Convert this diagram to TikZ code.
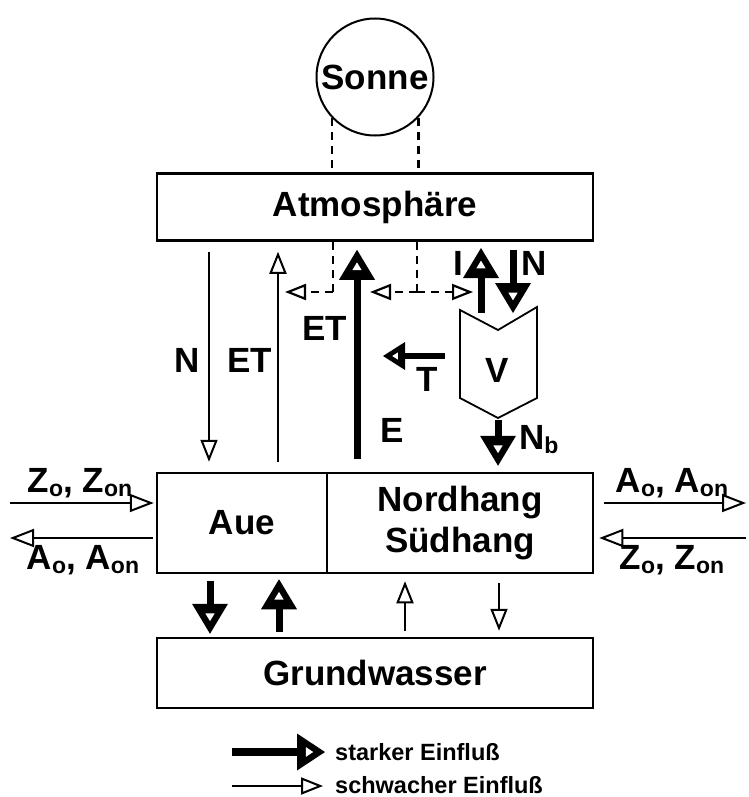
\documentclass[tikz,border=0pt]{standalone}
\usepackage{fontspec}
\setmainfont{Liberation Sans}
\usetikzlibrary{arrows.meta,calc}
% lowered subscript in text size
\newcommand\lowsub[1]{\raisebox{-4pt}{\fontsize{23}{23}\selectfont #1}}
% solid arrow head with a small white triangle inside
\pgfdeclarearrow{
  name = HeavyTri,
  parameters = {\the\pgfarrowlength,\the\pgfarrowwidth},
  setup code = {
    \pgfarrowssettipend{0pt}
    \pgfarrowssetbackend{-\pgfarrowlength}
    \pgfarrowssetvisualbackend{-\pgfarrowlength}
    \pgfarrowssetlineend{-0.9\pgfarrowlength}
    \pgfarrowssavethe\pgfarrowlength
    \pgfarrowssavethe\pgfarrowwidth
  },
  drawing code = {
    \pgfpathmoveto{\pgfpoint{0pt}{0pt}}
    \pgfpathlineto{\pgfpoint{-\pgfarrowlength}{0.5\pgfarrowwidth}}
    \pgfpathlineto{\pgfpoint{-\pgfarrowlength}{-0.5\pgfarrowwidth}}
    \pgfpathclose
    \pgfusepathqfill
    \pgfsetfillcolor{white}
    \pgfpathmoveto{\pgfpoint{-0.42\pgfarrowlength}{0pt}}
    \pgfpathlineto{\pgfpoint{-0.68\pgfarrowlength}{0.13\pgfarrowwidth}}
    \pgfpathlineto{\pgfpoint{-0.68\pgfarrowlength}{-0.13\pgfarrowwidth}}
    \pgfpathclose
    \pgfusepathqfill
  },
  defaults = {length = 30pt, width = 36pt}
}
\begin{document}
\begin{tikzpicture}[x=1pt,y=-1pt,
  every node/.style={font=\fontsize{35}{41}\selectfont\bfseries, inner sep=0pt},
  box/.style={draw, line width=2.5pt, minimum width=436pt},
  cell/.style={draw, line width=2.5pt, minimum height=100pt},
  weak/.style={line width=1.8pt, -{Triangle[open,length=22pt,width=17pt,line width=2pt]}},
  sidearrow/.style={line width=1.8pt, -{Triangle[open,length=24pt,width=18pt,line width=2pt]}},
  strong/.style={line width=7pt, -{HeavyTri[length=30pt,width=36pt]}},
  link/.style={line width=2.2pt, dash pattern=on 8pt off 6pt},
  linkarrow/.style={link, -{Triangle[open,length=21pt,width=16pt,line width=2.2pt]}},
  legend/.style={font=\fontsize{23.5}{26}\selectfont\bfseries, anchor=west}]
\useasboundingbox (0,0) rectangle (748,797);

% compartments
\node[draw, circle, line width=2pt, minimum size=117pt] (sun) at (375,77) {Sonne};
\node[box, minimum height=67pt] (atm) at (375,207) {Atmosphäre};
\node[cell, minimum width=170pt] (aue) at (242,523) {Aue};
\node[cell, minimum width=266pt, align=center] (hang) at (460,523) {Nordhang\\Südhang};
\node[box, minimum height=70pt] (gw) at (375,673) {Grundwasser};

% vegetation
\draw[line width=1.8pt] (460,310) -- (498,330) -- (537,307) -- (537,398) -- (498,418) -- (460,398) -- cycle;
\node (veg) at (497,370) {V};

% radiation links from the sun
\coordinate (dl) at (sun.-136.4);
\coordinate (dr) at (sun.-43.6);
\draw[link] (dl) -- (dl |- atm.north);
\draw[link] (dr) -- (dr |- atm.north);
\coordinate (kl) at (333,292);
\coordinate (kr) at (417,292);
\coordinate (kla) at (285,292);
\coordinate (krl) at (370,292);
\coordinate (krr) at (473,292);
\draw[link] (kl |- atm.south) -- (kl);
\draw[linkarrow] (kl) -- (kla);
\draw[link] (kr |- atm.south) -- (kr);
\draw[linkarrow] (kr) -- (krl);
\draw[linkarrow] (kr) -- (krr);

% exchange between atmosphere and Aue
\draw[weak, shorten <=10pt, shorten >=10pt] (209,0 |- atm.south) -- (209,0 |- aue.north);
\draw[weak, shorten <=10pt, shorten >=10pt] (278,0 |- aue.north) -- (278,0 |- atm.south);
\draw[strong, shorten <=13pt, shorten >=8pt] (357,0 |- aue.north) -- (357,0 |- atm.south);
\node at (187,360) {N};
\node at (250,360) {ET};
\node at (325,328) {ET};
\node at (392,430) {E};

% interception, precipitation, transpiration
\coordinate (ib) at (481,313);
\coordinate (it) at (481,248);
\coordinate (nt) at (513,250);
\coordinate (nb) at (513,313);
\draw[strong] (ib) -- (it);
\draw[strong] (nt) -- (nb);
\node at (458,263) {I};
\node at (534,263) {N};
\coordinate (ts) at (445,356);
\coordinate (te) at (383,356);
\draw[strong, line width=6pt, -{HeavyTri[length=22pt,width=28pt]}] (ts) -- (te);
\node at (427,379) {T};
\coordinate (vb) at (498,420);
\draw[strong, shorten >=6pt] (vb) -- (vb |- aue.north) ;
\node[anchor=west] at (519,440) {N\lowsub{b}};

% lateral in- and outflows
\coordinate (lz) at (10,503);
\coordinate (la) at (10,538);
\coordinate (rz) at (746,538);
\coordinate (ra) at (746,503);
\draw[sidearrow, shorten >=2pt] (lz) -- (lz -| aue.west);
\draw[sidearrow, shorten <=3pt] (la -| aue.west) -- (la);
\draw[sidearrow, shorten <=10pt] (ra -| hang.east) -- (ra);
\draw[sidearrow, shorten >=5pt] (rz) -- (rz -| hang.east);
\node at (80,483) {Z\lowsub{o}, Z\lowsub{on}};
\node at (83,560) {A\lowsub{o}, A\lowsub{on}};
\node at (672,483) {A\lowsub{o}, A\lowsub{on}};
\node at (672,560) {Z\lowsub{o}, Z\lowsub{on}};

% exchange with groundwater
\draw[strong, shorten <=7pt, shorten >=3pt] (210,0 |- aue.south) -- (210,0 |- gw.north);
\draw[strong, shorten <=5pt, shorten >=5pt] (279,0 |- gw.north) -- (279,0 |- aue.south);
\draw[weak, shorten <=6pt, shorten >=7pt] (405,0 |- gw.north) -- (405,0 |- hang.south);
\draw[weak, shorten <=9pt, shorten >=6pt] (499,0 |- hang.south) -- (499,0 |- gw.north);

% legend
\coordinate (s0) at (232,752);
\coordinate (s1) at (325,752);
\coordinate (w0) at (232,786);
\coordinate (w1) at (323,786);
\draw[strong, line width=8pt, -{HeavyTri[length=28pt,width=37pt]}] (s0) -- (s1);
\draw[weak] (w0) -- (w1);
\node[legend] at (335,752) {starker Einfluß};
\node[legend] at (335,785) {schwacher Einfluß};
\end{tikzpicture}
\end{document}
